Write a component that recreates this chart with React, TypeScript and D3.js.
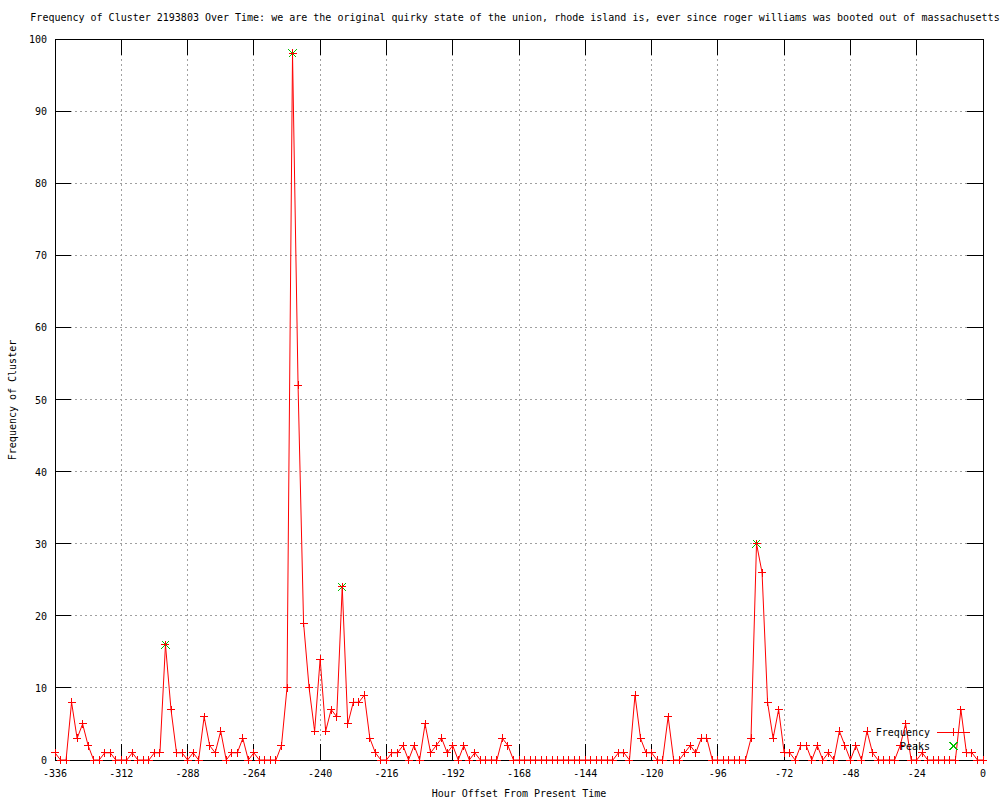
import React from "react";
import * as d3 from "d3";

// cluster counts, one value every 2 hours from -336 to 0
const startHour = -336;
const stepHours = 2;
const frequency = [
  1, 0, 0, 8, 3, 5, 2, 0, 0, 1, 1, 0, 0, 0, 1, 0, 0, 0, 1, 1,
  16, 7, 1, 1, 0, 1, 0, 6, 2, 1, 4, 0, 1, 1, 3, 0, 1, 0, 0, 0,
  0, 2, 10, 98, 52, 19, 10, 4, 14, 4, 7, 6, 24, 5, 8, 8, 9, 3, 1, 0,
  0, 1, 1, 2, 0, 2, 0, 5, 1, 2, 3, 1, 2, 0, 2, 0, 1, 0, 0, 0,
  0, 3, 2, 0, 0, 0, 0, 0, 0, 0, 0, 0, 0, 0, 0, 0, 0, 0, 0, 0,
  0, 0, 1, 1, 0, 9, 3, 1, 1, 0, 0, 6, 0, 0, 1, 2, 1, 3, 3, 0,
  0, 0, 0, 0, 0, 0, 3, 30, 26, 8, 3, 7, 1, 1, 0, 2, 2, 0, 2, 0,
  1, 0, 4, 2, 0, 2, 0, 4, 1, 0, 0, 0, 0, 2, 5, 0, 0, 1, 0, 0,
  0, 0, 0, 0, 7, 1, 1, 0, 0,
];

const peakHours = [-296, -250, -232, -82];
const peakValues = [16, 98, 24, 30];

const xTicks = [-336, -312, -288, -264, -240, -216, -192, -168, -144, -120, -96, -72, -48, -24, 0];
const yTicks = [0, 10, 20, 30, 40, 50, 60, 70, 80, 90, 100];

const title =
  "Frequency of Cluster 2193803 Over Time: we are the original quirky state of the union, rhode island is, ever since roger williams was booted out of massachusetts";

const font = "'DejaVu Sans Mono', monospace";

const App = () => {
  const left = 55, right = 983, top = 39, bottom = 760;
  const tick = 16;

  const x = d3.scaleLinear().domain([-336, 0]).range([left, right]);
  const y = d3.scaleLinear().domain([0, 100]).range([bottom, top]);

  const hourAt = (i: number) => startHour + i * stepHours;

  const line = d3
    .line<number>()
    .x((d, i) => x(hourAt(i)))
    .y((d) => y(d));

  const plus = (cx: number, cy: number) => `M${cx - 4},${cy}h8M${cx},${cy - 4}v8`;
  const cross = (cx: number, cy: number) =>
    `M${cx - 4},${cy - 4}l8,8M${cx - 4},${cy + 4}l8,-8`;

  return (
    <svg
      width={1000}
      height={800}
      style={{ position: "absolute", left: 0, top: 0, background: "#fff" }}
      fontFamily={font}
      fontSize={10}
    >
      {/* grid */}
      <g stroke="#a0a0a0" strokeDasharray="2,3" shapeRendering="crispEdges">
        {xTicks.slice(1, -1).map((t) => (
          <line key={"gx" + t} x1={x(t)} x2={x(t)} y1={top} y2={bottom} />
        ))}
        {yTicks.slice(1, -1).map((t) => (
          <line key={"gy" + t} x1={left} x2={right} y1={y(t)} y2={y(t)} />
        ))}
      </g>

      {/* ticks on all four sides */}
      <g stroke="#000" shapeRendering="crispEdges">
        {xTicks.map((t) => (
          <g key={"tx" + t}>
            <line x1={x(t)} x2={x(t)} y1={bottom} y2={bottom - tick} />
            <line x1={x(t)} x2={x(t)} y1={top} y2={top + tick} />
          </g>
        ))}
        {yTicks.map((t) => (
          <g key={"ty" + t}>
            <line x1={left} x2={left + tick} y1={y(t)} y2={y(t)} />
            <line x1={right} x2={right - tick} y1={y(t)} y2={y(t)} />
          </g>
        ))}
        <rect x={left} y={top} width={right - left} height={bottom - top} fill="none" />
      </g>

      {/* tick labels */}
      <g fill="#000">
        {xTicks.map((t) => (
          <text key={"lx" + t} x={x(t)} y={bottom + 17} textAnchor="middle">
            {t}
          </text>
        ))}
        {yTicks.map((t) => (
          <text key={"ly" + t} x={left - 8} y={y(t) + 4} textAnchor="end">
            {t}
          </text>
        ))}
      </g>

      <text x={515} y={21} textAnchor="middle">{title}</text>
      <text x={519} y={797} textAnchor="middle">Hour Offset From Present Time</text>
      <text
        transform={`translate(16,400) rotate(-90)`}
        textAnchor="middle"
      >
        Frequency of Cluster
      </text>

      {/* peaks */}
      <g stroke="#00c000" fill="none" shapeRendering="crispEdges">
        {peakHours.map((h, i) => (
          <path key={"pk" + h} d={cross(x(h), y(peakValues[i]))} />
        ))}
      </g>

      {/* frequency line + points */}
      <path d={line(frequency) || ""} stroke="#ff0000" fill="none" />
      <g stroke="#ff0000" fill="none" shapeRendering="crispEdges">
        {frequency.map((v, i) => (
          <path key={"pt" + i} d={plus(x(hourAt(i)), y(v))} />
        ))}
      </g>

      {/* legend */}
      <g>
        <text x={930} y={736} textAnchor="end">Frequency</text>
        <line x1={937} x2={970} y1={732} y2={732} stroke="#ff0000" shapeRendering="crispEdges" />
        <path d={plus(953.5, 732)} stroke="#ff0000" shapeRendering="crispEdges" />
        <text x={930} y={750} textAnchor="end">Peaks</text>
        <path d={cross(953.5, 746)} stroke="#00c000" fill="none" shapeRendering="crispEdges" />
      </g>
    </svg>
  );
};

export default App;
